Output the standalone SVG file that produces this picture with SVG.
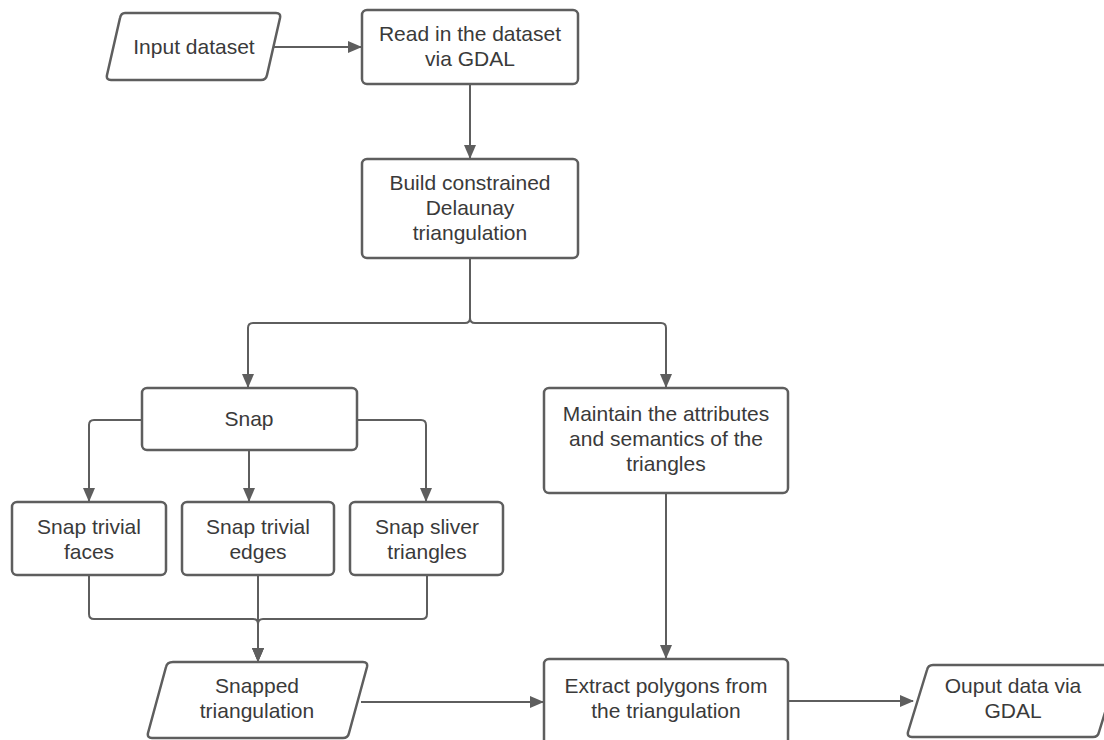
<svg xmlns="http://www.w3.org/2000/svg" width="1104" height="740" viewBox="0 0 1104 740">
<style>
.box{fill:#fff;stroke:#5e5e5e;stroke-width:2.5;stroke-linejoin:round}
.lbl{font-family:"Liberation Sans",Arial,sans-serif;font-size:21px;fill:#3a3a3a;text-anchor:middle}
.con{fill:none;stroke:#5e5e5e;stroke-width:2}
</style>
<defs>
<marker id="ah" markerWidth="14" markerHeight="12" refX="13" refY="6" orient="auto" markerUnits="userSpaceOnUse">
<path d="M0,0 L14,6 L0,12 Z" fill="#5e5e5e"/>
</marker>
</defs>
<rect width="1104" height="740" fill="#fff"/>
<g id="connectors">
<path class="con" d="M273 47 H361" marker-end="url(#ah)"/>
<path class="con" d="M470 84 V158" marker-end="url(#ah)"/>
<path class="con" d="M470 258 V318 Q470 323 465 323 H253 Q248 323 248 328 V387" marker-end="url(#ah)"/>
<path class="con" d="M470 258 V318 Q470 323 475 323 H661 Q666 323 666 328 V387" marker-end="url(#ah)"/>
<path class="con" d="M142 420 H94 Q89 420 89 425 V501" marker-end="url(#ah)"/>
<path class="con" d="M249 450 V501" marker-end="url(#ah)"/>
<path class="con" d="M357 420 H421 Q426 420 426 425 V501" marker-end="url(#ah)"/>
<path class="con" d="M89 575 V614 Q89 619 94 619 H253 Q258 619 258 624 V661" marker-end="url(#ah)"/>
<path class="con" d="M258 575 V661" marker-end="url(#ah)"/>
<path class="con" d="M427 575 V614 Q427 619 422 619 H263 Q258 619 258 624 V661" marker-end="url(#ah)"/>
<path class="con" d="M361 702 H543" marker-end="url(#ah)"/>
<path class="con" d="M666 493 V658" marker-end="url(#ah)"/>
<path class="con" d="M788 701 H913" marker-end="url(#ah)"/>
</g>
<g id="input">
<path class="box" d="M125 13 H276 Q281 13 280 18 L267 75 Q266 80 261 80 H111 Q106 80 107 75 L120 18 Q121 13 125 13 Z"/>
<text class="lbl" x="194" y="54">Input dataset</text>
</g>
<g id="read">
<rect class="box" x="362" y="10" width="216" height="74" rx="5"/>
<text class="lbl" x="470" y="41">Read in the dataset</text>
<text class="lbl" x="470" y="66">via GDAL</text>
</g>
<g id="build">
<rect class="box" x="362" y="159" width="216" height="99" rx="5"/>
<text class="lbl" x="470" y="190">Build constrained</text>
<text class="lbl" x="470" y="215">Delaunay</text>
<text class="lbl" x="470" y="240">triangulation</text>
</g>
<g id="snap">
<rect class="box" x="142" y="388" width="215" height="62" rx="5"/>
<text class="lbl" x="249" y="426">Snap</text>
</g>
<g id="maintain">
<rect class="box" x="544" y="388" width="244" height="105" rx="5"/>
<text class="lbl" x="666" y="421">Maintain the attributes</text>
<text class="lbl" x="666" y="446">and semantics of the</text>
<text class="lbl" x="666" y="471">triangles</text>
</g>
<g id="faces">
<rect class="box" x="12" y="502" width="154" height="73" rx="5"/>
<text class="lbl" x="89" y="534">Snap trivial</text>
<text class="lbl" x="89" y="559">faces</text>
</g>
<g id="edges">
<rect class="box" x="182" y="502" width="152" height="73" rx="5"/>
<text class="lbl" x="258" y="534">Snap trivial</text>
<text class="lbl" x="258" y="559">edges</text>
</g>
<g id="sliver">
<rect class="box" x="350" y="502" width="153" height="73" rx="5"/>
<text class="lbl" x="427" y="534">Snap sliver</text>
<text class="lbl" x="427" y="559">triangles</text>
</g>
<g id="snapped">
<path class="box" d="M173 662 H363 Q368 662 367 667 L349 733 Q348 738 343 738 H152 Q147 738 148 733 L166 667 Q167 662 173 662 Z"/>
<text class="lbl" x="257" y="693">Snapped</text>
<text class="lbl" x="257" y="718">triangulation</text>
</g>
<g id="extract">
<rect class="box" x="544" y="659" width="244" height="90" rx="5"/>
<text class="lbl" x="666" y="693">Extract polygons from</text>
<text class="lbl" x="666" y="718">the triangulation</text>
</g>
<g id="output">
<path class="box" d="M933 665 H1114 Q1119 665 1118 670 L1099 732 Q1098 737 1093 737 H912 Q907 737 908 732 L927 670 Q928 665 933 665 Z"/>
<text class="lbl" x="1013" y="693">Ouput data via</text>
<text class="lbl" x="1013" y="718">GDAL</text>
</g>
</svg>
